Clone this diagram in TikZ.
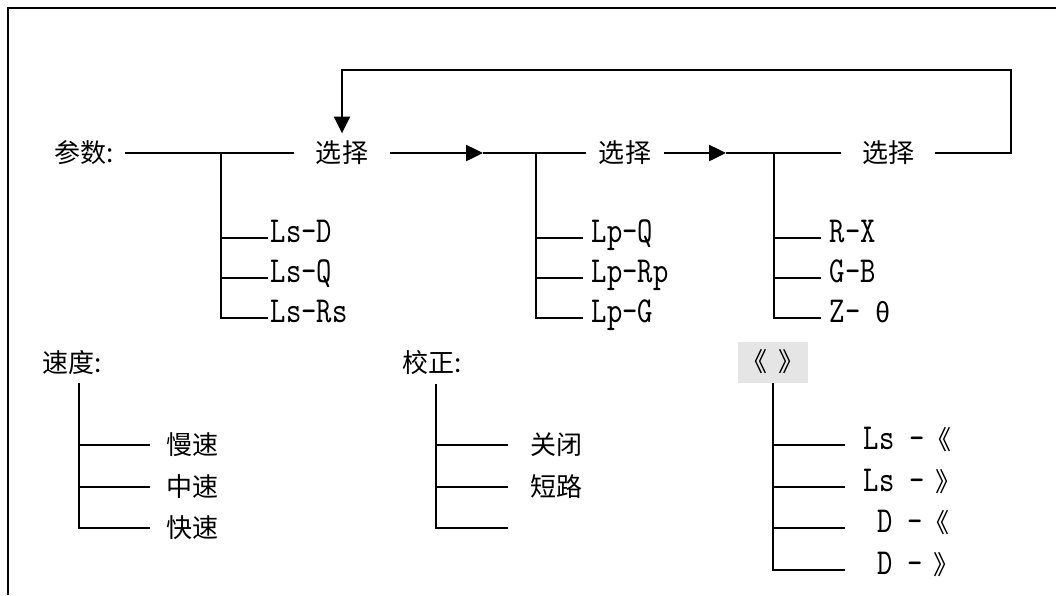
\documentclass[tikz,border=0pt]{standalone}
\usepackage{fontspec}
\newfontfamily\cjk{Noto Sans CJK SC}
\newfontfamily\lat{lmmono10-regular}[Extension=.otf, FakeStretch=0.8]
\usetikzlibrary{arrows.meta}
\begin{document}
\begin{tikzpicture}[x=0.025cm, y=-0.025cm, line width=1.3pt, font=\cjk\fontsize{18.5}{20}\selectfont,
  arr/.style={-{Triangle[length=0.42cm,width=0.4cm]}},
  txt/.style={inner sep=0pt},
  sel/.style={inner xsep=#1, inner ysep=0.17cm}, sel/.default=0.5cm,
  leaf/.style={anchor=west, inner ysep=0pt, inner xsep=#1}, leaf/.default=0.2cm,
  latn/.style={font=\lat\fontsize{26}{28}\selectfont, text height=0.64em, text depth=0.03em}]
\useasboundingbox (0,0) rectangle (1056,595);
\draw (8,595) -- (8,8) -- (1056,8);
\node[txt, inner xsep=0.25cm] (param) at (84,153) {参数:};
\node[sel=0.525cm] (sel1) at (342,153) {选择};
\node[sel=0.3cm] (sel2) at (625,153) {选择};
\node[sel] (sel3) at (888,153) {选择};
\coordinate (m1) at (483,153);
\coordinate (m2) at (726,153);
\coordinate (fb) at (1011,70);
\draw (param.east) -- (sel1.west);
\draw[arr] (sel1.east) -- (m1);
\draw (m1) -- (sel2.west);
\draw[arr] (sel2.east) -- (m2);
\draw (m2) -- (sel3.west);
\draw[arr] (sel3.east) -| (fb) -| (sel1.north);
\coordinate (b1) at (221,153);
\coordinate (b2) at (536,153);
\coordinate (b3) at (774,153);
\node[leaf=0.05cm, latn] (lsd) at (268,238) {Ls-D};
\node[leaf=0.05cm, latn] (lsq) at (268,278) {Ls-Q};
\node[leaf=0.05cm, latn] (lsrs) at (268,318) {Ls-Rs};
\node[leaf, latn] (lpq) at (583,238) {Lp-Q};
\node[leaf, latn] (lprp) at (583,278) {Lp-Rp};
\node[leaf, latn] (lpg) at (583,318) {Lp-G};
\node[leaf, latn] (rx) at (821,238) {R-X};
\node[leaf, latn] (gb) at (821,278) {G-B};
\node[leaf, latn] (zt) at (821,318) {Z- {\cjk\fontsize{18.5}{20}\selectfont θ}};
\foreach \n in {lsd,lsq,lsrs} \draw (b1) |- (\n.west);
\foreach \n in {lpq,lprp,lpg} \draw (b2) |- (\n.west);
\foreach \n in {rx,gb,zt} \draw (b3) |- (\n.west);
\node[txt] (speed) at (72,363) {速度:};
\coordinate (b4) at (79,383);
\node[leaf=0.4cm] (slow) at (150,445) {慢速};
\node[leaf=0.4cm] (mid) at (150,487) {中速};
\node[leaf=0.4cm] (fast) at (150,528) {快速};
\foreach \n in {slow,mid,fast} \draw (b4) |- (\n.west);
\node[txt] (calib) at (432,363) {校正:};
\coordinate (b5) at (436,384);
\node[leaf=0.55cm] (open) at (508,445) {关闭};
\node[leaf=0.55cm] (short) at (508,487) {短路};
\coordinate (c3) at (508,528);
\foreach \n in {open.west,short.west,c3} \draw (b5) |- (\n);
\node[fill=black!10, minimum width=1.75cm, minimum height=1.025cm, inner sep=0pt] (ctl) at (773,362) {《\hspace{0.45em}》};
\node[leaf=0.45cm, latn] (lsl) at (845,445) {Ls -{\cjk\fontsize{18.5}{20}\selectfont 《}};
\node[leaf=0.45cm, latn] (lsr) at (845,487) {Ls -{\cjk\fontsize{18.5}{20}\selectfont\hspace{0.4em}》}};
\node[leaf=0.78cm, latn] (dl) at (845,528) {D -{\cjk\fontsize{18.5}{20}\selectfont 《}};
\node[leaf=0.78cm, latn] (dr) at (845,570) {D -{\cjk\fontsize{18.5}{20}\selectfont\hspace{0.4em}》}};
\foreach \n in {lsl,lsr,dl,dr} \draw (ctl.south) |- (\n.west);
\end{tikzpicture}
\end{document}
